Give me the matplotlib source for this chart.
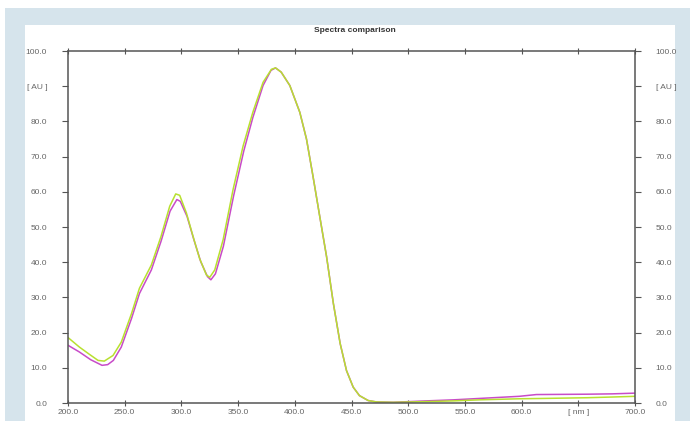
"""
Spectra comparison: two UV-Vis absorbance spectra overlaid.
"""

import matplotlib
matplotlib.use("Agg")
import matplotlib.pyplot as plt
from matplotlib.patches import Rectangle

# wavelength [nm] and absorbance [AU]
wl_green = [200, 210, 219, 226.5, 232, 239.7, 247, 256, 263, 273.5, 282, 289.7, 295,
            298.5, 304.4, 310.3, 316, 322, 325, 329.4, 336.8, 345.6, 354.4, 363, 372,
            379.4, 383, 388, 395.6, 404.4, 410.3, 416, 422, 428, 434, 440, 445.6,
            451.5, 457, 464.7, 472, 486.8, 516, 540, 563, 598, 620, 658, 680, 700]
au_green = [18.6, 15.9, 13.8, 12.1, 11.9, 13.5, 17.3, 25.4, 32.6, 39.2, 47.3, 55.9, 59.4,
            59.0, 54.0, 47.3, 41.1, 36.4, 35.7, 37.8, 46.4, 60.7, 73.0, 82.6, 91.1,
            94.8, 95.2, 94.0, 90.2, 82.6, 75.0, 64.5, 53.0, 41.6, 28.3, 16.9, 9.2,
            4.5, 2.1, 0.7, 0.3, 0.2, 0.4, 0.6, 0.9, 1.2, 1.3, 1.5, 1.7, 1.9]

wl_magenta = [200, 210, 220, 230, 235, 240, 247, 256, 263, 273.5, 282, 290, 296,
              299, 305, 311, 317, 323, 326, 330, 337, 346, 355, 363, 372,
              379, 383, 388, 395.6, 404.4, 410.3, 416, 422, 428, 434, 440, 445.6,
              451.5, 457, 464.7, 472, 486.8, 516, 540, 569, 598, 613, 658, 680, 700]
au_magenta = [16.4, 14.5, 12.3, 10.7, 10.9, 12.1, 15.9, 24.0, 31.1, 37.8, 45.9, 54.5, 57.8,
              57.3, 53.0, 46.4, 40.2, 35.9, 35.0, 36.7, 44.5, 58.8, 71.6, 81.1, 90.2,
              94.5, 95.2, 94.0, 90.2, 82.6, 75.0, 64.5, 53.0, 41.6, 28.3, 16.9, 9.2,
              4.5, 2.1, 0.7, 0.3, 0.2, 0.6, 0.9, 1.4, 1.9, 2.4, 2.5, 2.6, 2.8]

x_ticks = [200, 250, 300, 350, 400, 450, 500, 550, 600, 650, 700]
x_labels = ["200.0", "250.0", "300.0", "350.0", "400.0", "450.0", "500.0",
            "550.0", "600.0", "[ nm ]", "700.0"]
y_ticks = [0, 10, 20, 30, 40, 50, 60, 70, 80, 90, 100]
y_labels = ["0.0", "10.0", "20.0", "30.0", "40.0", "50.0", "60.0",
            "70.0", "80.0", "[ AU ]", "100.0"]

plt.rcParams["font.family"] = ["Liberation Sans", "DejaVu Sans"]

W, H = 690, 421
fig = plt.figure(figsize=(W / 100, H / 100), dpi=100)
fig.patch.set_facecolor("white")

# light blue frame around the white panel (behind the axes)
fig.patches.append(Rectangle((5 / W, 0), 1 - 5 / W, 1 - 8 / H, transform=fig.transFigure,
                             facecolor="#d6e4ec", edgecolor="none", zorder=-2))
fig.patches.append(Rectangle((25 / W, 0), 650 / W, 1 - 25 / H, transform=fig.transFigure,
                             facecolor="white", edgecolor="none", zorder=-1))

ax = fig.add_axes([68 / W, 1 - 403 / H, 567 / W, 352 / H], zorder=1)
ax.set_facecolor("white")

ax.plot(wl_magenta, au_magenta, color="#c84bc8", lw=1.1)
ax.plot(wl_green, au_green, color="#b8e030", lw=1.1)

ax.set_xlim(200, 700)
ax.set_ylim(0, 100)
ax.set_xticks(x_ticks)
ax.set_xticklabels(x_labels)
ax.set_yticks(y_ticks)
ax.set_yticklabels(y_labels)

for s in ax.spines.values():
    s.set_color("#555555")
    s.set_linewidth(1.1)

ax.tick_params(axis="x", which="both", direction="inout", length=5, width=0.8,
               colors="#555555", labelsize=6, pad=2, top=True, labeltop=False)
ax.tick_params(axis="y", which="both", direction="out", length=4, width=0.8,
               colors="#555555", labelsize=6, pad=11, right=True, labelright=True)
for lab in ax.get_xticklabels() + ax.get_yticklabels():
    lab.set_color("#666666")

fig.text(355 / W, 1 - 30 / H, "Spectra comparison", ha="center", va="center",
         fontsize=6, fontweight="bold", color="#333333", zorder=2)

fig.savefig("out.png", dpi=100, facecolor=fig.get_facecolor())
